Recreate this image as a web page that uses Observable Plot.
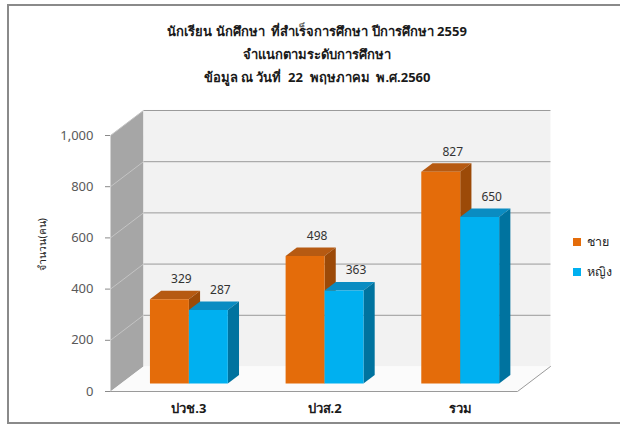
<!DOCTYPE html>
<html>
<head>
<meta charset="utf-8">
<script src="https://cdn.jsdelivr.net/npm/d3@7"></script>
<script src="https://cdn.jsdelivr.net/npm/@observablehq/plot@0.6"></script>
<style>
  body { margin: 0; background: #fff; font-family: "Noto Sans", "DejaVu Sans", sans-serif; }
  #wrap { position: relative; width: 620px; height: 425px; overflow: hidden; }
  #frame { position: absolute; left: 7px; top: 4px; width: 640px; height: 416px;
           border-top: 2px solid #8a8a8a; border-left: 2px solid #8a8a8a; border-bottom: 2px solid #8a8a8a; }
  #title { position: absolute; left: 7px; top: 20px; width: 620px; text-align: center; white-space: pre;
           font-weight: bold; font-size: 13px; line-height: 23px; color: #1a1a1a; }
  #chart { position: absolute; left: 0; top: 0; }
  .leg { position: absolute; left: 573px; font-size: 12.5px; color: #262626; display: flex; align-items: center; }
  .leg span.sw { display: inline-block; width: 8px; height: 8px; margin-right: 6px; }
</style>
</head>
<body>
<div id="wrap">
  <div id="frame"></div>
  <div id="chart"></div>
  <div id="title"></div>
  <div id="legend"></div>
</div>
<script>
const titleLines = ["นักเรียน นักศึกษา  ที่สำเร็จการศึกษา ปีการศึกษา 2559", "จำแนกตามระดับการศึกษา", "ข้อมูล ณ วันที่  22  พฤษภาคม  พ.ศ.2560"];
const categories = ["ปวช.3", "ปวส.2", "รวม"];
const seriesNames = ["ชาย", "หญิง"];
const male = [329, 498, 827];
const female = [287, 363, 650];
const yTicks = [0, 200, 400, 600, 800, 1000];
const yTitle = "จำนวน(คน)";

// style constants (3D look)
const colors = [
  {front: "#E46C0A", top: "#B65A12", side: "#9C4A08"},
  {front: "#00B0F0", top: "#0A8CC2", side: "#00739F"}
];
const DX = 0.243, DY = 97.7;   // full depth offset in data units
const F0 = 0.32, F1 = 0.66;    // bar depth range (fraction)
const W = 0.287;               // bar width in category units

document.getElementById("title").innerHTML = titleLines.map(t => `<div>${t}</div>`).join("");
document.getElementById("legend").innerHTML = seriesNames.map((s, k) =>
  `<div class="leg" style="top:${232 + k * 30}px"><span class="sw" style="background:${colors[k].front}"></span>${s}</div>`).join("");

const n = categories.length;
const yMax = yTicks[yTicks.length - 1];

// walls
const polys = [];
function poly(id, fill, stroke, pts) { pts.forEach(([x, y]) => polys.push({id, fill, stroke, x, y})); }
poly("side", "#A6A6A6", "none", [[0, 0], [DX, DY], [DX, yMax + DY], [0, yMax]]);
poly("back", "#F2F2F2", "none", [[DX, DY], [n + DX, DY], [n + DX, yMax + DY], [DX, yMax + DY]]);
poly("floor", "#FBFBFB", "none", [[0, 0], [n, 0], [n + DX, DY], [DX, DY]]);

// bars
const bars = [];
[male, female].forEach((vals, s) => {
  vals.forEach((v, i) => {
    const x0 = i + 0.5 - W + s * W, x1 = x0 + W;
    const c = colors[s];
    poly(`t${s}${i}`, c.top, "none", [[x0 + F0*DX, v + F0*DY], [x1 + F0*DX, v + F0*DY], [x1 + F1*DX, v + F1*DY], [x0 + F1*DX, v + F1*DY]]);
    poly(`s${s}${i}`, c.side, "none", [[x1 + F0*DX, F0*DY], [x1 + F1*DX, F1*DY], [x1 + F1*DX, v + F1*DY], [x1 + F0*DX, v + F0*DY]]);
    poly(`f${s}${i}`, c.front, "none", [[x0 + F0*DX, F0*DY], [x1 + F0*DX, F0*DY], [x1 + F0*DX, v + F0*DY], [x0 + F0*DX, v + F0*DY]]);
    bars.push({x: (x0 + x1) / 2 + F0 * DX, y: v + F0 * DY, v});
  });
});

const gridBack = yTicks.slice(1).map(t => ({t}));
const gridSide = yTicks.slice(1).map(t => ({t}));

const chart = Plot.plot({
  width: 620, height: 425,
  marginLeft: 110, marginRight: 103, marginTop: 135, marginBottom: 34,
  x: {domain: [0, n], axis: null},
  y: {domain: [0, yMax], axis: null},
  color: {type: "identity"},
  style: {background: "transparent", overflow: "visible"},
  marks: [
    Plot.line(polys.filter(p => ["side","back","floor"].includes(p.id)), {x: "x", y: "y", z: "id", fill: "fill", stroke: "none", curve: "linear"}),
    // back wall gridlines
    Plot.link(gridBack, {x1: DX, x2: n + DX, y1: d => d.t + DY, y2: d => d.t + DY, stroke: "#9a9a9a", strokeWidth: 1}),
    // side wall gridlines
    Plot.link(gridSide, {x1: 0, x2: DX, y1: d => d.t, y2: d => d.t + DY, stroke: "#c4c4c4", strokeWidth: 1}),
    // floor outline (front and right edges)
    Plot.line([[0, 0], [n, 0], [n + DX, DY]], {x: d => d[0], y: d => d[1], stroke: "#9a9a9a", strokeWidth: 1}),
    // bars
    Plot.line(polys.filter(p => !["side","back","floor"].includes(p.id)), {x: "x", y: "y", z: "id", fill: "fill", stroke: "none", curve: "linear"}),
    // axis
    Plot.axisY({ticks: yTicks, tickFormat: d3.format(","), label: null, tickSize: 5, tickPadding: 12, fontSize: 13, color: "#595959", stroke: "#8a8a8a"}),
    // category labels
    Plot.text(categories, {x: (d, i) => i + 0.5 + F0 * DX, y: 0, text: d => d, dy: 17, fontSize: 13, fontWeight: "bold", fill: "#1a1a1a"}),
    // value labels
    Plot.text(bars, {x: "x", y: "y", text: d => String(d.v), dx: 12, dy: -20, fontSize: 12, fill: "#333"}),
    // y title
    Plot.text([yTitle], {frameAnchor: "left", text: d => d, rotate: -90, dx: -68, dy: 7, fontSize: 10.5, fill: "#262626"})
  ]
});
document.getElementById("chart").appendChild(chart);
</script>
</body>
</html>
